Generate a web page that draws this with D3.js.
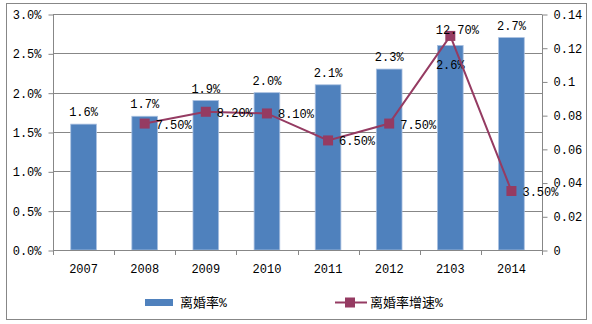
<!DOCTYPE html>
<html><head><meta charset="utf-8">
<script src="https://cdn.jsdelivr.net/npm/d3@7"></script>
<style>body{margin:0;background:#fff}svg{display:block}text{font-family:"Liberation Mono","Noto Sans CJK SC",monospace;fill:#000}</style>
</head><body><svg id="c" width="592" height="324"></svg>
<script>
const categories = ["2007","2008","2009","2010","2011","2012","2103","2014"];
const rateValues = [1.6,1.7,1.9,2.0,2.1,2.3,2.6,2.7];
const rateLabels = ["1.6%","1.7%","1.9%","2.0%","2.1%","2.3%","2.6%","2.7%"];
const growthCats = ["2008","2009","2010","2011","2012","2103","2014"];
const growthValues = [0.075,0.082,0.081,0.065,0.075,0.127,0.035];
const growthLabels = ["7.50%","8.20%","8.10%","6.50%","7.50%","12.70%","3.50%"];
const leftTicks = [0,0.5,1.0,1.5,2.0,2.5,3.0];
const rightTicks = [0,0.02,0.04,0.06,0.08,0.1,0.12,0.14];
const seriesNames = ["离婚率%","离婚率增速%"];

const svg = d3.select("#c");
const L=53,R=542,T=14,B=250;
const barColor="#4F81BD", lineColor="#953B62", gridColor="#878787";
svg.append("rect").attr("x",6.5).attr("y",3.5).attr("width",580).attr("height",316).attr("fill","#fff").attr("stroke","#878787");

const x = d3.scaleBand().domain(categories).range([L,R]).paddingInner(0.58).paddingOuter(0.29);
const xc = d => x(d)+x.bandwidth()/2;
const yL = d3.scaleLinear().domain([0,3.0]).range([B,T]);
const yR = d3.scaleLinear().domain([0,0.14]).range([B,T]);

// gridlines
svg.append("g").selectAll("line").data(leftTicks.slice(1)).join("line")
 .attr("x1",L).attr("x2",R).attr("y1",d=>Math.round(yL(d))+0.5).attr("y2",d=>Math.round(yL(d))+0.5)
 .attr("stroke",gridColor);

// bars
svg.append("g").selectAll("rect").data(rateValues).join("rect")
 .attr("x",(d,i)=>x(categories[i])).attr("width",x.bandwidth())
 .attr("y",d=>yL(d)).attr("height",d=>B-yL(d))
 .attr("fill",barColor).attr("stroke","#a9c0e0").attr("stroke-width",0.8);

// axes
const axL = d3.axisLeft(yL).tickValues(leftTicks).tickSize(5).tickPadding(7).tickFormat(d=>d3.format(".1f")(d)+"%");
const gL = svg.append("g").attr("transform",`translate(${L+0.5},0.5)`).call(axL);
const axR = d3.axisRight(yR).tickValues(rightTicks).tickSize(5).tickPadding(6).tickFormat(d=>d===0?"0":String(+d.toFixed(2)));
const gR = svg.append("g").attr("transform",`translate(${R+0.5},0.5)`).call(axR);
const axB = d3.axisBottom(x).tickSize(0).tickPadding(14);
const gB = svg.append("g").attr("transform",`translate(0,${B+0.5})`).call(axB);
[gL,gR,gB].forEach(g=>{g.selectAll("path,line").attr("stroke",gridColor);g.select(".domain").attr("stroke",gridColor);g.selectAll("text").attr("font-size",12).attr("font-family",'"Liberation Mono",monospace').attr("fill","#000");});
gL.select(".domain").attr("d",`M0,${T}V${B-T+T}`).attr("d",`M0,${T}V${B}`);
gR.select(".domain").attr("d",`M0,${T}V${B}`);
gB.select(".domain").attr("d",`M${L},0H${R}`);
// category boundary ticks
const bounds = categories.map(c=>x(c)-x.step()*x.paddingInner()/2).concat([R]);
svg.append("g").selectAll("line").data(bounds).join("line")
 .attr("x1",d=>Math.round(d)+0.5).attr("x2",d=>Math.round(d)+0.5).attr("y1",B).attr("y2",B+5).attr("stroke",gridColor);

// bar labels
svg.append("g").selectAll("text").data(rateLabels).join("text")
 .attr("x",(d,i)=>xc(categories[i])).attr("y",(d,i)=> i===6 ? yL(rateValues[i])+24 : yL(rateValues[i])-8)
 .attr("text-anchor","middle").attr("font-size",12).text(d=>d);

// line
const line = d3.line().x((d,i)=>xc(growthCats[i])).y(d=>yR(d));
svg.append("path").datum(growthValues).attr("d",line).attr("fill","none").attr("stroke",lineColor).attr("stroke-width",2);
svg.append("g").selectAll("rect").data(growthValues).join("rect")
 .attr("x",(d,i)=>xc(growthCats[i])-5).attr("y",d=>yR(d)-5).attr("width",10).attr("height",10).attr("fill",lineColor);
svg.append("g").selectAll("text").data(growthLabels).join("text")
 .attr("x",(d,i)=> i===5 ? xc(growthCats[i])+7 : xc(growthCats[i])+11)
 .attr("y",(d,i)=> i===5 ? yR(growthValues[i])-2 : yR(growthValues[i])+5)
 .attr("text-anchor",(d,i)=> i===5 ? "middle":"start").attr("font-size",12).text(d=>d);

// legend
const lg = svg.append("g");
lg.append("rect").attr("x",145).attr("y",299).attr("width",28).attr("height",7).attr("fill",barColor);
lg.append("text").attr("x",180).attr("y",307).attr("font-size",13).attr("font-family",'"Noto Sans CJK SC",sans-serif').text(seriesNames[0]);
lg.append("line").attr("x1",335).attr("x2",367).attr("y1",302.5).attr("y2",302.5).attr("stroke",lineColor).attr("stroke-width",2);
lg.append("rect").attr("x",345).attr("y",297.5).attr("width",10).attr("height",10).attr("fill",lineColor);
lg.append("text").attr("x",370).attr("y",307).attr("font-size",13).attr("font-family",'"Noto Sans CJK SC",sans-serif').text(seriesNames[1]);
</script></body></html>
